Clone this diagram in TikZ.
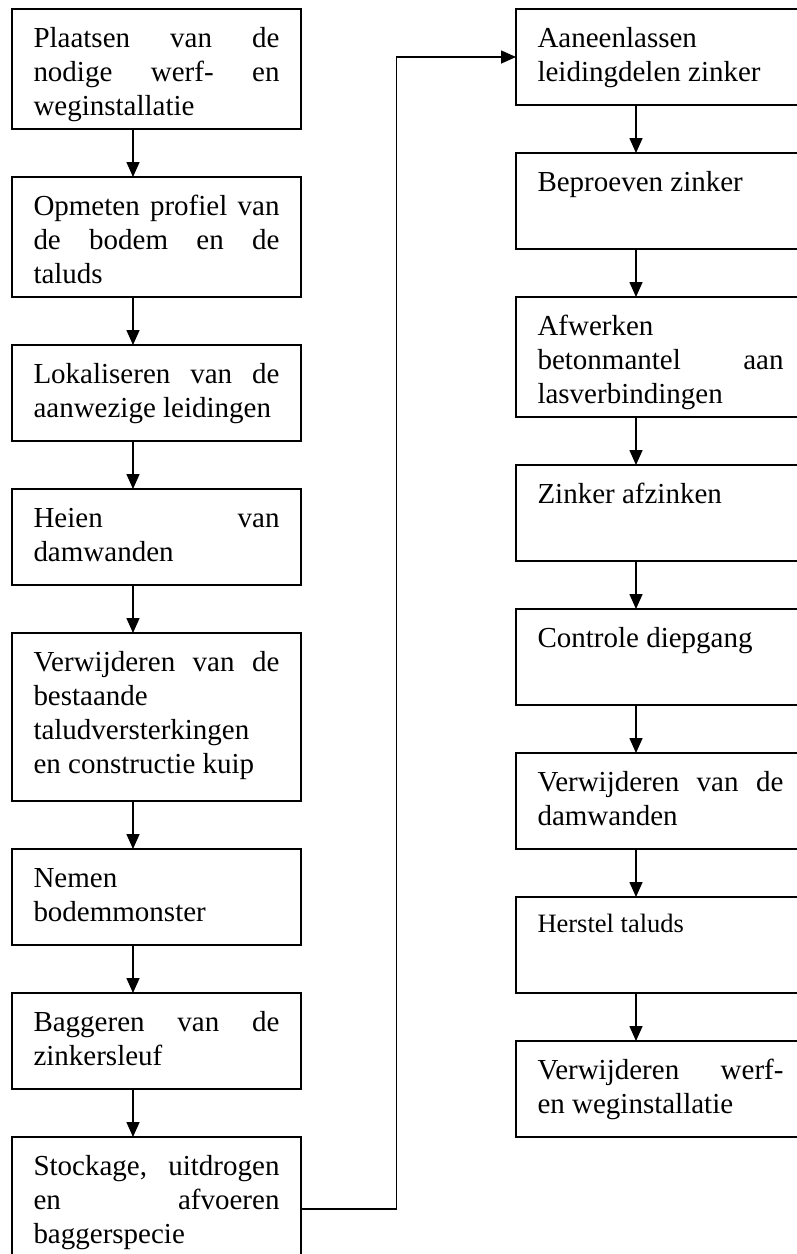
\documentclass[tikz,border=0pt]{standalone}
\usepackage{fontspec}
\setmainfont{Liberation Serif}
\usetikzlibrary{arrows.meta, positioning}

\newcommand{\staptekst}{\fontsize{29}{34}\selectfont\hyphenpenalty=10000\tolerance=10000}
\newcommand{\kleintekst}{\fontsize{26.5}{31}\selectfont\hyphenpenalty=10000\tolerance=10000}

\begin{document}
\begin{tikzpicture}[
    x=1pt, y=-1pt,
    node distance=48pt,
    stap/.style={rectangle, draw, line width=1.6pt, text width=246pt, align=justify, inner xsep=21.5pt, inner ysep=0pt, outer sep=0pt, text height=38pt, text depth=#1, font=\staptekst},
    stap/.default=58pt,
    pijl/.style={-{Triangle[length=15pt, width=13pt]}, line width=1.6pt}
  ]
  \useasboundingbox (0,0) rectangle (797,1254);
  \clip (0,0) rectangle (797,1254);

  % linker kolom
  \node (plaatsen) [stap=82pt, anchor=north west] at (12,9) {Plaatsen van de\linebreak nodige werf- en\linebreak weginstallatie};
  \node (opmeten) [stap=82pt, below=of plaatsen] {Opmeten profiel van\linebreak de bodem en de\linebreak taluds};
  \node (lokaliseren) [stap, below=of opmeten] {Lokaliseren van de\linebreak aanwezige leidingen};
  \node (heien) [stap, below=of lokaliseren] {Heien van\linebreak damwanden};
  \node (verwijderen) [stap=130pt, below=of heien] {Verwijderen van de\linebreak bestaande\linebreak taludversterkingen\linebreak en constructie kuip};
  \node (nemen) [stap, below=of verwijderen] {Nemen\linebreak bodemmonster};
  \node (baggeren) [stap, below=of nemen] {Baggeren van de\linebreak zinkersleuf};
  \node (stockage) [stap=106pt, below=of baggeren] {Stockage, uitdrogen\linebreak en afvoeren\linebreak baggerspecie};

  % rechter kolom
  \node (aaneenlassen) [stap, anchor=north west] at (516,9) {Aaneenlassen\linebreak leidingdelen zinker};
  \node (beproeven) [stap, below=of aaneenlassen] {Beproeven zinker};
  \node (afwerken) [stap=82pt, below=of beproeven] {Afwerken\linebreak betonmantel aan\linebreak lasverbindingen};
  \node (afzinken) [stap, below=of afwerken] {Zinker afzinken};
  \node (controle) [stap, below=of afzinken] {Controle diepgang};
  \node (damwanden) [stap, below=of controle] {Verwijderen van de\linebreak damwanden};
  \node (herstel) [stap=61pt, text height=35pt, font=\kleintekst, below=of damwanden] {Herstel taluds};
  \node (opruimen) [stap, below=of herstel] {Verwijderen werf-\linebreak en weginstallatie};

  % verbindingen
  \coordinate (asL) at (133,0);
  \coordinate (asR) at (636,0);
  \coordinate (bocht) at (396.5,600);
  \draw [pijl] (plaatsen.south -| asL) -- (opmeten.north -| asL);
  \draw [pijl] (opmeten.south -| asL) -- (lokaliseren.north -| asL);
  \draw [pijl] (lokaliseren.south -| asL) -- (heien.north -| asL);
  \draw [pijl] (heien.south -| asL) -- (verwijderen.north -| asL);
  \draw [pijl] (verwijderen.south -| asL) -- (nemen.north -| asL);
  \draw [pijl] (nemen.south -| asL) -- (baggeren.north -| asL);
  \draw [pijl] (baggeren.south -| asL) -- (stockage.north -| asL);
  \draw [pijl] (stockage.east) -| (bocht) |- (aaneenlassen.west);
  \draw [pijl] (aaneenlassen.south -| asR) -- (beproeven.north -| asR);
  \draw [pijl] (beproeven.south -| asR) -- (afwerken.north -| asR);
  \draw [pijl] (afwerken.south -| asR) -- (afzinken.north -| asR);
  \draw [pijl] (afzinken.south -| asR) -- (controle.north -| asR);
  \draw [pijl] (controle.south -| asR) -- (damwanden.north -| asR);
  \draw [pijl] (damwanden.south -| asR) -- (herstel.north -| asR);
  \draw [pijl] (herstel.south -| asR) -- (opruimen.north -| asR);
\end{tikzpicture}
\end{document}
